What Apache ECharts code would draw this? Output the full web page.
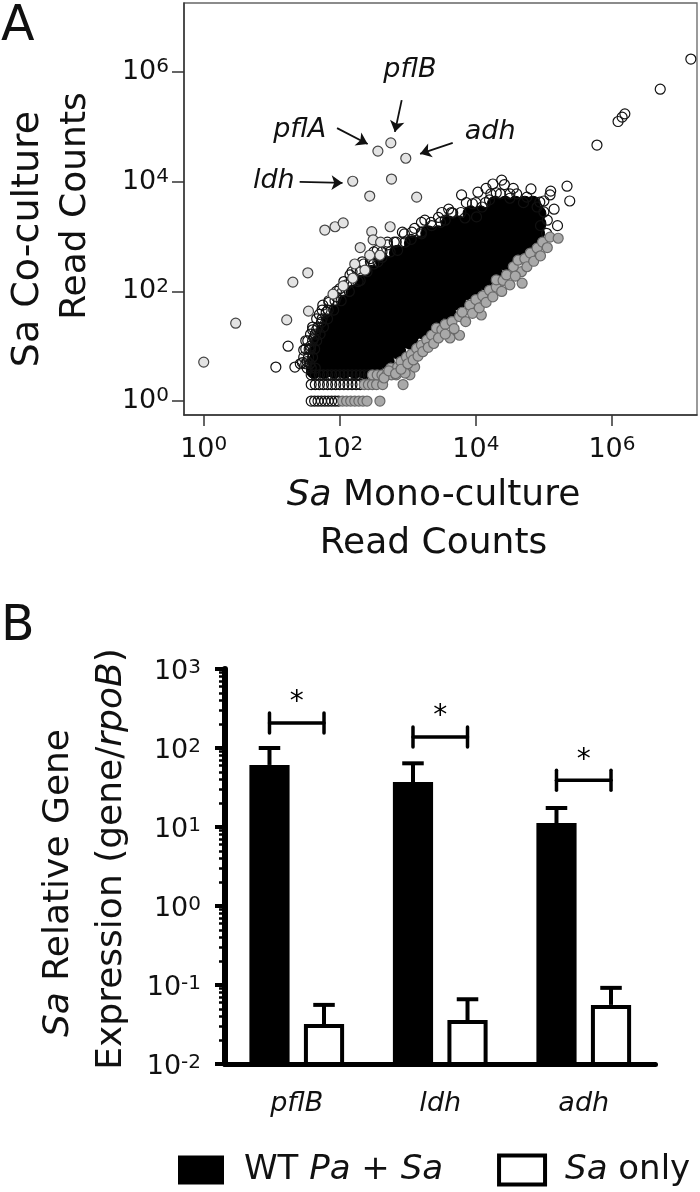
<!DOCTYPE html>
<html><head><meta charset="utf-8">
<script src="https://cdn.jsdelivr.net/npm/echarts@6/dist/echarts.min.js"></script>
<style>html,body{margin:0;padding:0;background:#fff}#c{width:700px;height:1192px}</style>
</head><body><div id="c"></div><script>
const FONT = 'DejaVu Sans';
// ===== Panel A: read counts, stored as log10 exponents [mono, co] =====
// dense (solid black) part of the cloud: rows of [log10 co, [log10 mono ...]]
const denseCoreRows = [
  [0.55, [1.62,1.77,1.92,2.07,2.22,2.37,2.52]],
  [0.72, [1.64,1.79,1.94,2.09,2.24,2.39,2.54,2.69]],
  [0.9,  [1.66,1.81,1.96,2.11,2.26,2.41,2.56,2.71,2.86]],
  [1.08, [1.7,1.85,2.0,2.15,2.3,2.45,2.6,2.75,2.9,3.04]],
  [1.26, [1.76,1.91,2.06,2.21,2.36,2.51,2.66,2.81,2.96,3.11,3.24]],
  [1.44, [1.85,2.0,2.15,2.3,2.45,2.6,2.75,2.9,3.05,3.2,3.35,3.42]],
  [1.62, [1.96,2.11,2.26,2.41,2.56,2.71,2.86,3.01,3.16,3.31,3.46,3.6]],
  [1.8,  [2.08,2.23,2.38,2.53,2.68,2.83,2.98,3.13,3.28,3.43,3.58,3.74]],
  [1.98, [2.2,2.35,2.5,2.65,2.8,2.95,3.1,3.25,3.4,3.55,3.7,3.85,3.98]],
  [2.16, [2.34,2.49,2.64,2.79,2.94,3.09,3.24,3.39,3.54,3.69,3.84,3.99,4.14]],
  [2.34, [2.48,2.63,2.78,2.93,3.08,3.23,3.38,3.53,3.68,3.83,3.98,4.13,4.28]],
  [2.52, [2.64,2.79,2.94,3.09,3.24,3.39,3.54,3.69,3.84,3.99,4.14,4.29,4.44]],
  [2.7,  [2.84,2.99,3.14,3.29,3.44,3.59,3.74,3.89,4.04,4.19,4.34,4.49,4.62]],
  [2.88, [3.06,3.21,3.36,3.51,3.66,3.81,3.96,4.11,4.26,4.41,4.56,4.71,4.8]],
  [3.06, [3.3,3.45,3.6,3.75,3.9,4.05,4.2,4.35,4.5,4.65,4.8,4.9]],
  [3.24, [3.6,3.75,3.9,4.05,4.2,4.35,4.5,4.65,4.8,4.92]],
  [3.42, [3.92,4.07,4.22,4.37,4.52,4.67,4.82,4.92]],
  [3.6,  [4.28,4.43,4.58,4.72,4.84]]
];
// low-count rows (1, 2, 3 reads) of open circles
const openRows = [
  [0,     [1.58,1.63,1.68,1.73,1.78,1.83,1.88,1.93,1.98]],
  [0.301, [1.58,1.64,1.7,1.76,1.82,1.88,1.94,2.0,2.06,2.12,2.18,2.24,2.3]],
  [0.477, [1.58,1.64,1.7,1.76,1.82,1.88,1.94,2.0,2.06,2.12,2.18,2.24,2.3,2.36,2.42]],
  [0.602, [1.52,1.58,1.64]]
];
// open circles fringing the upper-left edge of the cloud
const fringeRows = [
  [0.68, [1.42,1.5,1.56]],
  [0.8,  [1.47,1.54,1.6]],
  [0.95, [1.5,1.57,1.63]],
  [1.1,  [1.53,1.6,1.66]],
  [1.22, [1.57,1.64,1.71]],
  [1.35, [1.6,1.68,1.76]],
  [1.5,  [1.66,1.74,1.82]],
  [1.66, [1.74,1.83,1.91]],
  [1.83, [1.84,1.93,2.02]],
  [2.0,  [1.95,2.04,2.14]],
  [2.18, [2.06,2.17,2.27]],
  [2.36, [2.18,2.3,2.4]],
  [2.54, [2.33,2.45,2.56]],
  [2.72, [2.5,2.62,2.74]],
  [2.9,  [2.7,2.83,2.96]],
  [3.08, [2.92,3.06,3.2]],
  [3.26, [3.2,3.34,3.48]],
  [3.44, [3.5,3.64,3.78]],
  [3.62, [3.86,4.0,4.14]],
  [3.78, [4.22,4.36,4.5]]
];
// scattered open circles (not significant)
const openPts = [
  [1.06,0.62],[1.34,0.62],[1.47,0.93],[1.24,1.0],[1.45,0.7],[1.52,0.72],[1.5,1.1],[1.55,0.95],
  [1.6,1.3],[1.66,1.3],[1.73,1.44],[1.8,1.62],[1.62,1.15],[1.57,1.0],[1.7,1.58],[1.75,1.75],
  [1.84,1.8],[1.95,1.9],[2.0,2.05],[2.1,2.12],[2.15,2.3],[2.25,2.4],[2.3,2.2],[2.35,2.5],
  [2.45,2.6],[2.55,2.75],[2.5,2.5],[2.62,2.62],[2.7,2.85],[2.8,2.9],[2.85,2.75],[2.95,3.05],
  [3.05,2.95],[3.1,3.15],[3.2,3.05],[3.25,3.3],[3.35,3.2],[3.45,3.35],[3.55,3.3],[3.66,3.43],
  [3.6,3.5],[3.84,3.34],[4.01,3.36],[3.79,3.76],[4.03,3.81],[4.09,3.54],[4.2,3.67],[3.95,3.6],
  [4.25,3.96],[4.38,4.03],[4.42,3.95],[4.3,3.8],[4.5,3.7],[4.6,3.78],[4.7,3.62],[4.81,3.87],
  [4.94,3.63],[5.09,3.76],[5.1,3.83],[5.34,3.92],[5.38,3.65],[4.9,3.54],[5.0,3.45],[5.05,3.3],
  [5.15,3.5],[5.04,3.06],[4.95,3.2],[5.2,3.2],[5.0,3.65],[4.75,3.72],[4.55,3.88],[4.15,3.88],
  [5.78,4.67],[6.09,5.1],[6.15,5.18],[6.19,5.24],[6.71,5.69],[7.16,6.24]
];
// higher in co-culture (light grey)
const upPts = [
  [0,0.71],[0.47,1.42],[1.22,1.48],[1.31,2.17],[1.53,2.34],[1.54,1.64],[1.9,1.95],
  [1.78,3.12],[1.93,3.18],[2.05,3.25],[2.19,4.01],[2.56,4.56],[2.75,4.71],[2.97,4.43],
  [2.76,4.05],[2.44,3.74],[3.13,3.72],[2.47,3.09],[2.74,3.18],[2.49,2.94],[2.19,2.24],
  [2.37,2.39],[2.44,2.66],[2.59,2.66],[2.22,2.5],[2.3,2.8],[2.6,2.9],[2.05,2.1]
];
// lower in co-culture (mid grey)
const downRows = [
  [0,     [2.04,2.1,2.16,2.22,2.28,2.34,2.4,2.59]],
  [0.301, [2.36,2.42,2.48,2.54,2.63,2.93]],
  [0.477, [2.48,2.55,2.62,2.69,2.76,2.83,3.03]]
];
const downPts = [
  [2.96,0.51],[2.75,0.6],[2.85,0.62],[3.1,0.62],[2.9,0.72],[2.98,0.8],[3.05,0.85],[3.13,0.96],
  [3.2,1.02],[3.28,1.11],[3.35,1.2],[3.42,1.33],[3.5,1.3],[3.62,1.15],[3.76,1.2],[3.55,1.4],
  [3.65,1.45],[3.76,1.54],[3.8,1.62],[3.91,1.75],[4.08,1.57],[4.0,1.85],[4.1,1.92],[4.2,2.02],
  [4.3,2.08],[4.3,2.21],[4.4,2.2],[4.45,2.3],[4.5,2.12],[4.68,2.15],[4.67,2.36],[4.55,2.45],
  [4.62,2.57],[4.72,2.6],[4.8,2.7],[4.9,2.79],[4.98,2.9],[5.09,2.99],[5.21,2.97],
  [2.65,0.42],[2.72,0.55],[2.82,0.5],[2.9,0.58],[3.0,0.68],[3.08,0.75],[3.15,0.82],[3.22,0.9],
  [3.3,0.98],[3.38,1.05],[3.45,1.15],[3.55,1.22],[3.68,1.32],[3.85,1.45],[3.95,1.6],[4.05,1.7],
  [4.15,1.8],[4.25,1.9],[4.38,2.0],[4.58,2.28],[4.75,2.45],[4.85,2.55],[4.95,2.65],[5.05,2.8]
];
// gene annotations: [label, textMono, textCo, arrowFromMono, arrowFromCo, arrowToMono, arrowToCo]
const annotations = [
  ['pflB', 3.03, 6.04, 2.91, 5.49, 2.81, 4.91],
  ['adh',  4.21, 4.91, 3.66, 4.71, 3.18, 4.51],
  ['pflA', 1.41, 4.95, 1.96, 4.98, 2.41, 4.69],
  ['ldh',  1.03, 4.01, 1.41, 4.00, 2.04, 3.98]
];
const ticksA = [1, 1e2, 1e4, 1e6];
const xRangeA = [0.513, 1.78e7];
const yRangeA = [0.556, 1.83e7];

// ===== Panel B: qRT-PCR =====
const genes = ['pflB', 'ldh', 'adh'];
const coMean = [61, 37, 11.2];
const coSD = [39, 27, 6.2];
const monoMean = [0.032, 0.036, 0.056];
const monoSD = [0.024, 0.030, 0.036];
const sigLevel = [207, 138, 39];
const ticksB = [0.01, 0.1, 1, 10, 100, 1000];
const minorB = [0.02,0.03,0.04,0.05,0.06,0.07,0.08,0.09,0.2,0.3,0.4,0.5,0.6,0.7,0.8,0.9,
  2,3,4,5,6,7,8,9,20,30,40,50,60,70,80,90,200,300,400,500,600,700,800,900];

// ---- helpers ----
const p10 = a => Math.pow(10, a);
const fromRows = rows => { const out = []; rows.forEach(([v, us]) => us.forEach(u => out.push([p10(u), p10(v)]))); return out; };
const fromPts = pts => pts.map(([u, v]) => [p10(u), p10(v)]);
const supFmt = v => { const e = Math.round(Math.log10(v)); return '{b|10}{s|' + e + '}'; };

const BAR_W = 0.28, BAR_OFF = 0.19;
function barRender(side, fill, stroke, lw) {
  return (params, api) => {
    const ci = api.value(0), v = api.value(1);
    const top = api.coord([ci, v]);
    const base = api.coord([ci, ticksB[0]]);
    const band = api.size([1, 0], [ci, v])[0];
    const w = band * BAR_W;
    const cx = top[0] + side * band * BAR_OFF;
    return {type: 'rect',
      shape: {x: cx - w / 2 + lw / 2, y: top[1] + lw / 2, width: w - lw, height: base[1] - top[1] - lw / 2},
      style: {fill: fill, stroke: stroke, lineWidth: lw}};
  };
}
function errRender(side) {
  return (params, api) => {
    const ci = api.value(0), m = api.value(1), sd = api.value(2);
    const p0 = api.coord([ci, m]), p1 = api.coord([ci, m + sd]);
    const band = api.size([1, 0], [ci, m])[0];
    const cx = p0[0] + side * band * BAR_OFF;
    const ch = band * 0.075;
    return {type: 'group', children: [
      {type: 'line', shape: {x1: cx, y1: p0[1], x2: cx, y2: p1[1]}, style: {stroke: '#000', lineWidth: 4}},
      {type: 'line', shape: {x1: cx - ch, y1: p1[1], x2: cx + ch, y2: p1[1]}, style: {stroke: '#000', lineWidth: 4}}
    ]};
  };
}
function sigRender(params, api) {
  const ci = api.value(0), lvl = api.value(1);
  const p = api.coord([ci, lvl]);
  const band = api.size([1, 0], [ci, lvl])[0];
  const xa = p[0] - band * BAR_OFF, xb = p[0] + band * BAR_OFF, h = 10;
  const st = {stroke: '#000', lineWidth: 3.5, lineCap: 'round'};
  return {type: 'group', children: [
    {type: 'line', shape: {x1: xa, y1: p[1], x2: xb, y2: p[1]}, style: st},
    {type: 'line', shape: {x1: xa, y1: p[1] - h, x2: xa, y2: p[1] + h}, style: st},
    {type: 'line', shape: {x1: xb, y1: p[1] - h, x2: xb, y2: p[1] + h}, style: st},
    {type: 'text', x: (xa + xb) / 2, y: p[1] - 20,
      style: {text: '*', fontSize: 28, fontFamily: FONT, fill: '#000', align: 'center', verticalAlign: 'middle'}}
  ]};
}

const richA = {
  b: {fontFamily: FONT, fontSize: 27, lineHeight: 30, color: '#111'},
  s: {fontFamily: FONT, fontSize: 20, lineHeight: 12, verticalAlign: 'top', color: '#111'}
};
const richB = {
  b: {fontFamily: FONT, fontSize: 27, lineHeight: 28, color: '#111'},
  s: {fontFamily: FONT, fontSize: 20, lineHeight: 18, verticalAlign: 'top', color: '#111'}
};
const axA = {color: '#333', width: 1.5};
const titleFont = 36;

const chart = echarts.init(document.getElementById('c'));
chart.setOption({
  animation: false,
  backgroundColor: '#fff',
  grid: [
    {left: 184, top: 3, width: 513, height: 412, show: true, borderColor: '#666', borderWidth: 1.3},
    {left: 225, top: 669, width: 430.5, height: 395}
  ],
  xAxis: [
    {gridIndex: 0, type: 'log', min: xRangeA[0], max: xRangeA[1],
      axisLine: {show: true, lineStyle: axA},
      axisTick: {show: true, customValues: ticksA, length: 11, lineStyle: axA},
      axisLabel: {customValues: ticksA, margin: 20, formatter: supFmt, rich: richA},
      splitLine: {show: false},
      name: '{i|Sa} Mono-culture\nRead Counts', nameLocation: 'middle', nameGap: 57,
      nameTextStyle: {fontFamily: FONT, fontSize: titleFont, lineHeight: 48, color: '#111', padding: [0, 14, 0, 0],
        rich: {i: {fontFamily: FONT, fontSize: titleFont, lineHeight: 48, fontStyle: 'italic', color: '#111'}}}},
    {gridIndex: 1, type: 'category', data: genes,
      axisLine: {lineStyle: {color: '#000', width: 5}},
      axisTick: {alignWithLabel: true, length: 16, lineStyle: {color: '#000', width: 4}},
      axisLabel: {fontFamily: FONT, fontSize: 27, fontStyle: 'italic', color: '#111', margin: 26}}
  ],
  yAxis: [
    {gridIndex: 0, type: 'log', min: yRangeA[0], max: yRangeA[1],
      axisLine: {show: true, lineStyle: axA},
      axisTick: {show: true, customValues: ticksA, length: 12, lineStyle: axA},
      axisLabel: {customValues: ticksA, margin: 15, formatter: supFmt, rich: richA},
      splitLine: {show: false}},
    {gridIndex: 1, type: 'log', min: ticksB[0], max: ticksB[ticksB.length - 1],
      axisLine: {show: true, lineStyle: {color: '#000', width: 6}},
      axisTick: {show: true, customValues: ticksB, length: 10, lineStyle: {color: '#000', width: 4}},
      axisLabel: {customValues: ticksB, margin: 24, formatter: supFmt, rich: richB, padding: [6, 0, 0, 0]},
      splitLine: {show: false}},
    {gridIndex: 1, type: 'log', min: ticksB[0], max: ticksB[ticksB.length - 1], position: 'left',
      axisLine: {show: false},
      axisTick: {show: true, customValues: minorB, length: 6, lineStyle: {color: '#000', width: 2.5}},
      axisLabel: {show: false}, splitLine: {show: false}}
  ],
  legend: {
    left: 178, top: 1153, padding: 0, itemWidth: 46, itemHeight: 29, itemGap: 54,
    data: [
      {name: 'WT Pa + Sa', icon: 'rect', itemStyle: {color: '#000'}},
      {name: 'Sa only', icon: 'rect', itemStyle: {color: '#fff', borderColor: '#000', borderWidth: 4}}
    ],
    formatter: n => n === 'WT Pa + Sa' ? 'WT {i|Pa} + {i|Sa}' : '{i|Sa} only',
    textStyle: {fontFamily: FONT, fontSize: 34, color: '#111', padding: [0, 0, 0, 15],
      rich: {i: {fontFamily: FONT, fontSize: 34, fontStyle: 'italic', color: '#111'}}}
  },
  graphic: [
    {type: 'text', x: 1, y: 3, style: {text: 'A', fontFamily: FONT, fontSize: 49, fill: '#111'}},
    {type: 'text', x: 1, y: 603, style: {text: 'B', fontFamily: FONT, fontSize: 49, fill: '#111'}},
    {type: 'text', x: 28, y: 239, rotation: Math.PI / 2,
      style: {text: 'Sa Co-culture', fontFamily: FONT, fontSize: 38, fill: '#111', align: 'center', verticalAlign: 'middle'}},
    {type: 'text', x: 76, y: 206, rotation: Math.PI / 2,
      style: {text: 'Read Counts', fontFamily: FONT, fontSize: titleFont, fill: '#111', align: 'center', verticalAlign: 'middle'}},
    {type: 'text', x: 59, y: 883, rotation: Math.PI / 2,
      style: {text: '{i|Sa} Relative Gene', fontFamily: FONT, fontSize: titleFont, fill: '#111', align: 'center', verticalAlign: 'middle',
        rich: {i: {fontFamily: FONT, fontSize: titleFont, fontStyle: 'italic', fill: '#111'}}}},
    {type: 'text', x: 112, y: 859, rotation: Math.PI / 2,
      style: {text: 'Expression (gene/{i|rpoB})', fontFamily: FONT, fontSize: titleFont, fill: '#111', align: 'center', verticalAlign: 'middle',
        rich: {i: {fontFamily: FONT, fontSize: titleFont, fontStyle: 'italic', fill: '#111'}}}}
  ],
  series: [
    {type: 'scatter', name: 'dense', xAxisIndex: 0, yAxisIndex: 0, data: fromRows(denseCoreRows),
      symbolSize: 15, itemStyle: {color: '#000', borderColor: '#000', borderWidth: 1, opacity: 1}, silent: true},
    {type: 'scatter', name: 'ns', xAxisIndex: 0, yAxisIndex: 0,
      data: fromRows(openRows).concat(fromRows(fringeRows), fromPts(openPts)),
      symbolSize: 10, itemStyle: {color: 'rgba(255,255,255,0)', borderColor: '#111', borderWidth: 1.2, opacity: 1}, silent: true,
      markLine: {silent: true, symbol: ['none', 'arrow'], symbolSize: 11, animation: false,
        lineStyle: {color: '#111', width: 1.8, type: 'solid'}, label: {show: false},
        data: annotations.map(a => [{coord: [p10(a[3]), p10(a[4])]}, {coord: [p10(a[5]), p10(a[6])]}])},
      markPoint: {silent: true, symbol: 'circle', symbolSize: 1, itemStyle: {color: 'rgba(0,0,0,0)'},
        label: {show: true, position: 'inside', fontFamily: FONT, fontSize: 27, fontStyle: 'italic', color: '#111', formatter: p => p.name},
        data: annotations.map(a => ({name: a[0], coord: [p10(a[1]), p10(a[2])]}))}},
    {type: 'scatter', name: 'down', xAxisIndex: 0, yAxisIndex: 0, data: fromRows(downRows).concat(fromPts(downPts)),
      symbolSize: 10, itemStyle: {color: '#a9a9a9', borderColor: '#6a6a6a', borderWidth: 1.2, opacity: 1}, silent: true},
    {type: 'scatter', name: 'up', xAxisIndex: 0, yAxisIndex: 0, data: fromPts(upPts),
      symbolSize: 10, itemStyle: {color: '#e3e3e3', borderColor: '#444', borderWidth: 1.2, opacity: 1}, silent: true},

    {type: 'custom', name: 'WT Pa + Sa', xAxisIndex: 1, yAxisIndex: 1, renderItem: barRender(-1, '#000', '#000', 0),
      itemStyle: {color: '#000'}, data: genes.map((g, i) => [i, coMean[i]]), z: 3},
    {type: 'custom', name: 'Sa only', xAxisIndex: 1, yAxisIndex: 1, renderItem: barRender(1, '#fff', '#000', 4),
      itemStyle: {color: '#fff', borderColor: '#000'}, data: genes.map((g, i) => [i, monoMean[i]]), z: 3},
    {type: 'custom', name: 'errCo', xAxisIndex: 1, yAxisIndex: 1, renderItem: errRender(-1),
      data: genes.map((g, i) => [i, coMean[i], coSD[i]]), z: 2},
    {type: 'custom', name: 'errMono', xAxisIndex: 1, yAxisIndex: 1, renderItem: errRender(1),
      data: genes.map((g, i) => [i, monoMean[i], monoSD[i]]), z: 2},
    {type: 'custom', name: 'sig', xAxisIndex: 1, yAxisIndex: 1, renderItem: sigRender,
      data: genes.map((g, i) => [i, sigLevel[i]]), z: 3}
  ]
});
</script></body></html>
